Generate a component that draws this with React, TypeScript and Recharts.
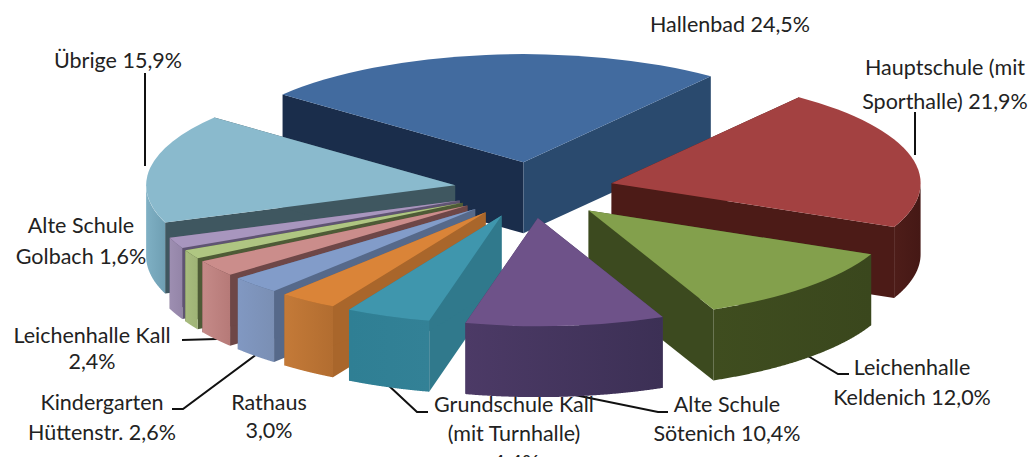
import { PieChart, Pie } from "recharts";

const sliceNames = [
  "Hallenbad",
  "Hauptschule (mit Sporthalle)",
  "Leichenhalle Keldenich",
  "Alte Schule Sötenich",
  "Grundschule Kall (mit Turnhalle)",
  "Rathaus",
  "Kindergarten Hüttenstr.",
  "Leichenhalle Kall",
  "Sonstige",
  "Alte Schule Golbach",
  "Übrige",
];
const sliceValues = [24.5, 21.9, 12.0, 10.4, 4.4, 3.0, 2.6, 2.4, 1.3, 1.6, 15.9];

// painter's order, back to front
const drawOrder = [0, 1, 10, 9, 8, 7, 6, 5, 4, 2, 3];

const topColors = ["#426b9f", "#a34141", "#83a04c", "#6e5289", "#3f96ad", "#da8438", "#829cc9", "#cb8d8b", "#afc682", "#a896be", "#8abacd"];
const startFaceColors = ["#1a2d4b", "#4c1b17", "#3c4a1f", "#44365e", "#30798c", "#a9662b", "#56698a", "#6e4747", "#4e5b36", "#5f5472", "#3f5760"];
const endFaceColors = ["#2a4a6e", "#4c1b17", "#3c4a1f", "#44365e", "#30798c", "#a9662b", "#56698a", "#6e4747", "#4e5b36", "#5f5472", "#3f5760"];
const arcLeftColors = ["#2a4a6e", "#4e1d19", "#3f4d1f", "#4c3a66", "#2f7f94", "#c47a38", "#8198c2", "#c58a88", "#a8bc7e", "#9d8eb1", "#7fb0c4"];
const arcRightColors = ["#2a4a6e", "#451815", "#3a471d", "#3c3055", "#338196", "#b26d30", "#7a8fb4", "#b67a78", "#9fb376", "#9485a8", "#6f9fb3"];

const labelLines = [
  { x: 730, y: 24, text: "Hallenbad 24,5%" },
  { x: 945, y: 67, text: "Hauptschule (mit" },
  { x: 945, y: 101, text: "Sporthalle) 21,9%" },
  { x: 118, y: 60, text: "Übrige 15,9%" },
  { x: 912, y: 367, text: "Leichenhalle" },
  { x: 912, y: 397, text: "Keldenich 12,0%" },
  { x: 727, y: 404, text: "Alte Schule" },
  { x: 727, y: 433, text: "Sötenich 10,4%" },
  { x: 514, y: 404, text: "Grundschule Kall" },
  { x: 514, y: 433, text: "(mit Turnhalle)" },
  { x: 516, y: 462, text: "4,4%" },
  { x: 269, y: 402, text: "Rathaus" },
  { x: 269, y: 430, text: "3,0%" },
  { x: 102, y: 402, text: "Kindergarten" },
  { x: 102, y: 432, text: "Hüttenstr. 2,6%" },
  { x: 92, y: 335, text: "Leichenhalle Kall" },
  { x: 92, y: 361, text: "2,4%" },
  { x: 81, y: 225, text: "Alte Schule" },
  { x: 81, y: 256, text: "Golbach 1,6%" },
];

const leaderLines = [
  "145,73 145,166",
  "915,112 915,155",
  "808,356 838,374 849,374",
  "565,393 658,412 668,412",
  "387,384 417,412 428,412",
  "257,354 183,409 172,409",
  "182,340 217,339",
];

const chartData = sliceNames.map((name, i) => ({ name, value: sliceValues[i] }));

const TILT = 0.35;
const DEPTH = 71;
const EXPLODE = 80;
const FIRST_ANGLE = 141.7;
const RAD = Math.PI / 180;

// the 3D view turns the front of the pie a little against the back
const viewAngle = (deg: number) => deg + 0.65 - 1.85 * Math.sin(deg * RAD);

const makeShape = (sliceIndex: number) => (props: any) => {
  if (props.name !== sliceNames[sliceIndex]) return null;
  const { cx, cy, outerRadius: r, startAngle, endAngle, midAngle } = props;
  const ax = cx + EXPLODE * Math.cos(midAngle * RAD);
  const ay = cy - EXPLODE * TILT * Math.sin(midAngle * RAD);
  const at = (deg: number) => {
    const v = viewAngle(deg) * RAD;
    return [ax + r * Math.cos(v), ay - r * TILT * Math.sin(v)];
  };
  const [sx, sy] = at(startAngle);
  const [ex, ey] = at(endAngle);

  const front: number[][] = [];
  for (let n = 0; n <= 160; n++) {
    const deg = startAngle + ((endAngle - startAngle) * n) / 160;
    if (Math.sin(viewAngle(deg) * RAD) <= 0) front.push(at(deg));
  }
  const arcPoints = [...front, ...[...front].reverse().map(([x, y]) => [x, y + DEPTH])]
    .map((p) => p.join(","))
    .join(" ");
  const large = Math.abs(startAngle - endAngle) > 180 ? 1 : 0;
  const gradId = `arc-${sliceIndex}`;

  return (
    <g>
      <defs>
        <linearGradient id={gradId} x1="0" y1="0" x2="1" y2="0">
          <stop offset="0%" stopColor={arcLeftColors[sliceIndex]} />
          <stop offset="100%" stopColor={arcRightColors[sliceIndex]} />
        </linearGradient>
      </defs>
      <polygon
        points={`${ax},${ay} ${sx},${sy} ${sx},${sy + DEPTH} ${ax},${ay + DEPTH}`}
        fill={startFaceColors[sliceIndex]}
      />
      <polygon
        points={`${ax},${ay} ${ex},${ey} ${ex},${ey + DEPTH} ${ax},${ay + DEPTH}`}
        fill={endFaceColors[sliceIndex]}
      />
      {front.length > 1 && <polygon points={arcPoints} fill={`url(#${gradId})`} />}
      <path
        d={`M${ax},${ay} L${sx},${sy} A${r},${r * TILT} 0 ${large} 1 ${ex},${ey} Z`}
        fill={topColors[sliceIndex]}
      />
    </g>
  );
};

export default function App() {
  return (
    <div style={{ position: "absolute", left: 0, top: 0, width: 1033, height: 457, overflow: "hidden", background: "#fff" }}>
      <PieChart width={1033} height={457} margin={{ top: 0, right: 0, bottom: 0, left: 0 }}>
        {drawOrder.map((sliceIndex) => (
          <Pie
            key={sliceIndex}
            data={chartData}
            dataKey="value"
            nameKey="name"
            cx={534}
            cy={190}
            outerRadius={309}
            startAngle={FIRST_ANGLE}
            endAngle={FIRST_ANGLE - 360}
            paddingAngle={0}
            stroke="none"
            shape={makeShape(sliceIndex)}
            isAnimationActive={false}
            labelLine={false}
            label={false}
          />
        ))}
        {leaderLines.map((points) => (
          <polyline key={points} points={points} fill="none" stroke="#111" strokeWidth={2} />
        ))}
        {labelLines.map((line) => (
          <text
            key={line.text}
            x={line.x}
            y={line.y}
            textAnchor="middle"
            dominantBaseline="central"
            fontFamily="Lato, sans-serif"
            fontSize={21.5}
            fill="#222"
          >
            {line.text}
          </text>
        ))}
      </PieChart>
    </div>
  );
}
